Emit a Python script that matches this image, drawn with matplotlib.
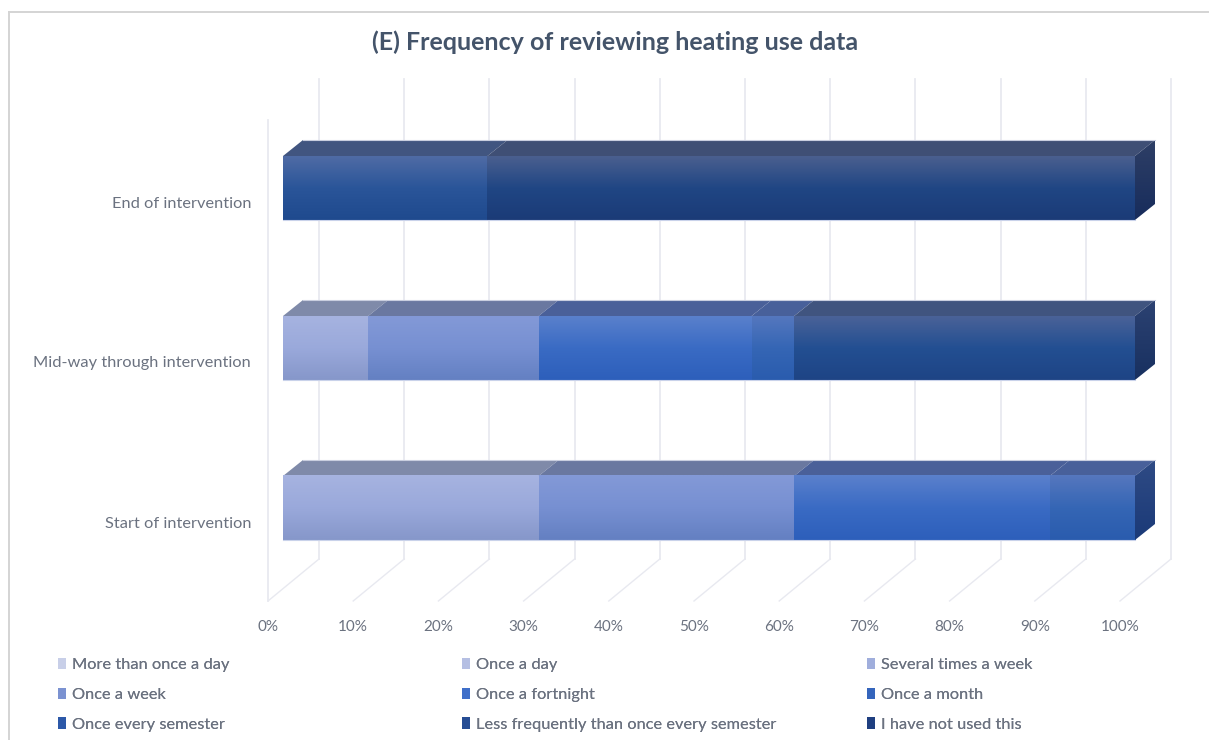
import numpy as np
import matplotlib
matplotlib.use('Agg')
import matplotlib.pyplot as plt
from matplotlib.colors import LinearSegmentedColormap
from matplotlib.lines import Line2D
from matplotlib.patches import Patch, Polygon
from matplotlib.transforms import ScaledTranslation

plt.rcParams['font.family'] = ['Lato', 'DejaVu Sans']

categories = ['Start of intervention', 'Mid-way through intervention', 'End of intervention']
series_names = ['More than once a day', 'Once a day', 'Several times a week',
                'Once a week', 'Once a fortnight', 'Once a month',
                'Once every semester', 'Less frequently than once every semester',
                'I have not used this']
more_than_daily = [0, 0, 0]
once_a_day = [0, 0, 0]
several_weekly = [30, 10, 0]
once_a_week = [30, 20, 0]
once_a_fortnight = [30, 25, 0]
once_a_month = [10, 5, 0]
once_a_semester = [0, 0, 24]
less_frequently = [0, 40, 0]
not_used = [0, 0, 76]
values = [more_than_daily, once_a_day, several_weekly, once_a_week, once_a_fortnight,
          once_a_month, once_a_semester, less_frequently, not_used]
x_ticks = list(range(0, 101, 10))

# legend swatch, front gradient (top, middle, bottom), top face, side face (top, bottom)
legend_colors = ['#C8CFE8', '#B5BFE3', '#A0AEDC', '#7B92D1', '#3F6FC9',
                 '#3565BC', '#2C58A8', '#264D94', '#1F3F80']
front_colors = [('#C8CFE8', '#BCC5E4', '#A8B2D4'), ('#B5BFE3', '#A9B5DF', '#98A5CF'),
                ('#A6B3E0', '#9AA9DB', '#8697CA'), ('#8399D7', '#7790D2', '#6480C2'),
                ('#5A80CC', '#3A6BC4', '#2D5FBB'), ('#5577BE', '#3566B5', '#2A5CAE'),
                ('#4F6BA5', '#2A5599', '#1F4A8E'), ('#4A6298', '#234F92', '#1E4485'),
                ('#4A5F8F', '#204684', '#1B3B77')]
top_colors = ['#8F97B0', '#868FAC', '#7F8AA9', '#6A78A0', '#4A6099',
              '#48609A', '#415580', '#40547F', '#3F4F75']
side_colors = [('#6A7392', '#556080'), ('#667090', '#505B7C'), ('#5F6B8F', '#4C5A80'),
               ('#4F5F8F', '#3E4F80'), ('#2F4F90', '#1F3F80'), ('#2F4B85', '#1B3A78'),
               ('#2C4272', '#193264'), ('#2C4272', '#183060'), ('#2E3F66', '#172C5C')]

PX_X = 8.52  # pixels per percent
PX_Y = 160.0  # pixels per category step
text_color = '#6B7280'
grid_color = '#E8E9F0'


def gradient(ax, colors, left, right, bottom, top, clip=None):
    cmap = LinearSegmentedColormap.from_list('face', colors)
    im = ax.imshow(np.linspace(0, 1, 64).reshape(-1, 1), cmap=cmap, aspect='auto',
                   extent=(left, right, bottom, top), origin='upper',
                   interpolation='bilinear', zorder=3)
    if clip is not None:
        im.set_clip_box(ax.figure.bbox)
        im.set_clip_path(clip)
    else:
        im.set_clip_on(False)
    return im


def main():
    fig = plt.figure(figsize=(12.11, 7.40), dpi=100)
    ax = fig.add_axes([283 / 1211, 1 - 601 / 740, 852 / 1211, 522 / 740])
    ylim = (-93 / PX_Y, 429 / PX_Y)

    bar_h = 64 / PX_Y
    dx, dy = 20 / PX_X, 16 / PX_Y
    back_x, front_x = 36 / PX_X, -15 / PX_X
    floor_back, floor_front = -51 / PX_Y, ylim[0]

    # walls
    for v in x_ticks:
        ax.plot([v + back_x, v + back_x], [floor_back, ylim[1]], color=grid_color, lw=1.3,
                zorder=1, clip_on=False)
        ax.plot([v + front_x, v + back_x], [floor_front, floor_back], color=grid_color, lw=1.0,
                zorder=1, clip_on=False)
    ax.plot([front_x, front_x], [floor_front, 388 / PX_Y], color=grid_color, lw=1.3,
            zorder=1, clip_on=False)

    # stacked 3D-look bars
    arr = np.array(values, dtype=float)
    for c in range(len(categories)):
        left = 0.0
        y0, y1 = c - bar_h / 2, c + bar_h / 2
        last = None
        for s in range(len(series_names)):
            w = arr[s, c]
            if w <= 0:
                continue
            ax.add_patch(Polygon([(left, y1), (left + w, y1), (left + w + dx, y1 + dy), (left + dx, y1 + dy)],
                                 facecolor=top_colors[s], edgecolor='none', zorder=3, clip_on=False))
            gradient(ax, front_colors[s], left, left + w, y0, y1)
            left += w
            last = s
        side = Polygon([(left, y0), (left + dx, y0 + dy), (left + dx, y1 + dy), (left, y1)],
                       facecolor='none', edgecolor='none', clip_on=False)
        ax.add_patch(side)
        gradient(ax, side_colors[last], left, left + dx, y0, y1 + dy, clip=side)
        ax.plot([0, left], [y0, y0], color='#C9D2EA', lw=0.8, zorder=4, clip_on=False)
        ax.plot([dx, left + dx], [y1 + dy, y1 + dy], color='#C9CEDF', lw=0.8, zorder=4, clip_on=False)

    ax.set_xlim(0, 100)
    ax.set_ylim(*ylim)
    ax.set_xticks(x_ticks)
    ax.set_xticklabels([f'{v}%' for v in x_ticks], fontsize=11, color=text_color)
    ax.set_yticks(range(len(categories)))
    ax.set_yticklabels(categories, fontsize=11.8, color=text_color)
    ax.tick_params(axis='both', length=0)
    ax.tick_params(axis='x', pad=14)
    ax.tick_params(axis='y', pad=23)
    for lab in ax.get_xticklabels():
        lab.set_transform(lab.get_transform() + ScaledTranslation(-15 / 100, 0, fig.dpi_scale_trans))
    for lab in ax.get_yticklabels():
        lab.set_transform(lab.get_transform() + ScaledTranslation(0, -14 / 100, fig.dpi_scale_trans))
    for sp in ax.spines.values():
        sp.set_visible(False)
    ax.patch.set_alpha(0)

    fig.text(615 / 1211, 1 - 42 / 740, '(E) Frequency of reviewing heating use data',
             ha='center', va='center', fontsize=18, fontweight='bold', color='#44546A')

    # legend is laid out row by row with three fixed columns
    for col, x_px in enumerate([58, 462, 867]):
        idx = [col, col + 3, col + 6]
        handles = [Patch(facecolor=legend_colors[i], label=series_names[i]) for i in idx]
        leg = fig.legend(handles=handles, loc='upper left', bbox_to_anchor=(x_px / 1211, 1 - 658 / 740),
                         frameon=False, fontsize=11.8, labelcolor=text_color, handlelength=0.5,
                         handleheight=0.7, handletextpad=0.36, labelspacing=0.92,
                         borderaxespad=0, borderpad=0)
        fig.add_artist(leg)

    # chart frame
    fig.add_artist(Line2D([9 / 1211, 9 / 1211], [0, 1 - 12 / 740], color='#D4D4D4', lw=1.4))
    fig.add_artist(Line2D([9 / 1211, 1208 / 1211], [1 - 12 / 740, 1 - 12 / 740], color='#D4D4D4', lw=1.4))

    fig.savefig('out.png', dpi=100)


if __name__ == '__main__':
    main()
